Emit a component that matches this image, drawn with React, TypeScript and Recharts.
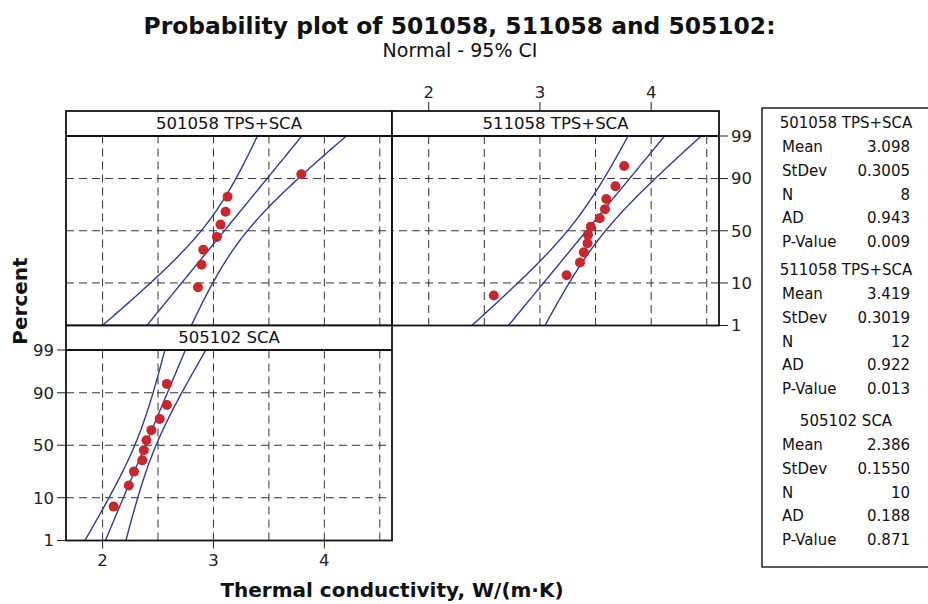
import { ComposedChart, Line, ReferenceLine, Scatter, XAxis, YAxis } from "recharts";

const W = 928;
const H = 604;
const FONT = "'DejaVu Sans', Verdana, sans-serif";
const LINE_BLUE = "#2f3c9a";
const DOT_RED = "#c9272e";
const GRID = "#333";

// axis ticks
const percentTicks = [1, 10, 50, 90, 99];
const percentGrid = [10, 50, 90];
const xTicks = [2, 3, 4];
const xGrid = [2, 2.5, 3, 3.5, 4, 4.5];
const xDomain: [number, number] = [1.67, 4.61];

// thermal conductivity samples (sorted) and their plotted percentiles
const tc501058 = [2.86, 2.893, 2.908, 3.031, 3.064, 3.109, 3.127, 3.792];
const pct501058 = [8.3, 20.2, 32.1, 44.0, 56.0, 67.9, 79.8, 91.7];
const tc511058 = [2.585, 3.24, 3.36, 3.395, 3.428, 3.432, 3.458, 3.537, 3.585, 3.597, 3.679, 3.757];
const pct511058 = [5.6, 13.7, 21.8, 29.8, 37.9, 46.0, 54.0, 62.1, 70.2, 78.2, 86.3, 94.4];
const tc505102 = [2.1, 2.237, 2.283, 2.358, 2.372, 2.395, 2.44, 2.515, 2.58, 2.58];
const pct505102 = [6.7, 16.3, 26.0, 35.6, 45.2, 54.8, 64.4, 74.0, 83.7, 93.3];

// summary statistics shown in the side table
const names = ["501058 TPS+SCA", "511058 TPS+SCA", "505102 SCA"];
const means = [3.098, 3.419, 2.386];
const stdevs = [0.3005, 0.3019, 0.155];
const counts = [8, 12, 10];
const adStats = ["0.943", "0.922", "0.188"];
const pValues = ["0.009", "0.013", "0.871"];
const meanLabels = ["3.098", "3.419", "2.386"];
const stdevLabels = ["0.3005", "0.3019", "0.1550"];

// Acklam's rational approximation of the standard normal quantile
function normInv(p: number): number {
  const a = [-39.69683028665376, 220.9460984245205, -275.9285104469687, 138.357751867269, -30.66479806614716, 2.506628277459239];
  const b = [-54.47609879822406, 161.5858368580409, -155.6989798598866, 66.80131188771972, -13.28068155288572];
  const c = [-0.007784894002430293, -0.3223964580411365, -2.400758277161838, -2.549732539343734, 4.374664141464968, 2.938163982698783];
  const d = [0.007784695709041462, 0.3224671290700398, 2.445134137142996, 3.754408661907416];
  const pl = 0.02425;
  if (p < pl) {
    const q = Math.sqrt(-2 * Math.log(p));
    return (((((c[0] * q + c[1]) * q + c[2]) * q + c[3]) * q + c[4]) * q + c[5]) / ((((d[0] * q + d[1]) * q + d[2]) * q + d[3]) * q + 1);
  }
  if (p > 1 - pl) {
    const q = Math.sqrt(-2 * Math.log(1 - p));
    return -(((((c[0] * q + c[1]) * q + c[2]) * q + c[3]) * q + c[4]) * q + c[5]) / ((((d[0] * q + d[1]) * q + d[2]) * q + d[3]) * q + 1);
  }
  const q = p - 0.5;
  const r = q * q;
  return ((((((a[0] * r + a[1]) * r + a[2]) * r + a[3]) * r + a[4]) * r + a[5]) * q) / (((((b[0] * r + b[1]) * r + b[2]) * r + b[3]) * r + b[4]) * r + 1);
}

const zOf = (pct: number) => normInv(pct / 100);
const Z_LO = zOf(1);
const Z_HI = zOf(99);
const Z975 = 1.959964;

// fitted normal line and 95% CI on percentiles, from mean / stdev / N
function fitCurves(mu: number, sd: number, n: number) {
  const fit: { x: number; z: number }[] = [];
  const lo: { x: number; z: number }[] = [];
  const hi: { x: number; z: number }[] = [];
  const steps = 60;
  for (let k = 0; k <= steps; k++) {
    const z = Z_LO + ((Z_HI - Z_LO) * k) / steps;
    const x = mu + z * sd;
    const half = Z975 * sd * Math.sqrt(1 / n + (z * z) / (2 * n));
    fit.push({ x, z });
    lo.push({ x: x - half, z });
    hi.push({ x: x + half, z });
  }
  return { fit, lo, hi };
}

type Panel = {
  title: string;
  values: number[];
  pcts: number[];
  mean: number;
  sd: number;
  n: number;
  left: number;
  right: number;
  head: number;
  top: number;
  bottom: number;
  xAxis: "top" | "bottom" | null;
  yAxis: "left" | "right" | null;
};

const COL1 = [66, 392];
const COL2 = [392, 719];
const ROW1 = { head: 111, top: 136, bottom: 325.5 };
const ROW2 = { head: 325.5, top: 350, bottom: 540.5 };

const panels: Panel[] = [
  { title: names[0], values: tc501058, pcts: pct501058, mean: means[0], sd: stdevs[0], n: counts[0], left: COL1[0], right: COL1[1], ...ROW1, xAxis: null, yAxis: null },
  { title: names[1], values: tc511058, pcts: pct511058, mean: means[1], sd: stdevs[1], n: counts[1], left: COL2[0], right: COL2[1], ...ROW1, xAxis: "top", yAxis: "right" },
  { title: names[2], values: tc505102, pcts: pct505102, mean: means[2], sd: stdevs[2], n: counts[2], left: COL1[0], right: COL1[1], ...ROW2, xAxis: "bottom", yAxis: "left" },
];

const yTickValues = percentTicks.map(zOf);
const yTickLabel = (v: number) => {
  let best = 0;
  yTickValues.forEach((z, i) => {
    if (Math.abs(z - v) < Math.abs(yTickValues[best] - v)) best = i;
  });
  return String(percentTicks[best]);
};

const tickStyle = { fill: "#222", fontSize: 16.5, fontFamily: FONT };

const Dot = (props: any) => <circle cx={props.cx} cy={props.cy} r={5} fill={DOT_RED} />;

function PanelChart({ p }: { p: Panel }) {
  const { fit, lo, hi } = fitCurves(p.mean, p.sd, p.n);
  const points = p.values.map((x, i) => ({ x, z: zOf(p.pcts[i]) }));
  // the top axis sits above the header strip, so its band spans the header;
  // other axes only need a 1px band (they draw nothing at zero size)
  const xh = p.xAxis === "top" ? p.top - p.head : p.xAxis ? 1 : 0;
  const yw = p.yAxis ? 1 : 0;
  const margin = {
    top: p.top - (p.xAxis === "top" ? xh : 0),
    bottom: H - p.bottom - (p.xAxis === "bottom" ? xh : 0),
    left: p.left - (p.yAxis === "left" ? yw : 0),
    right: W - p.right - (p.yAxis === "right" ? yw : 0),
  };
  return (
    <div style={{ position: "absolute", left: 0, top: 0 }}>
      <ComposedChart width={W} height={H} margin={margin}>
        <XAxis
          dataKey="x"
          type="number"
          domain={xDomain}
          allowDataOverflow
          ticks={xTicks}
          interval={0}
          hide={p.xAxis === null}
          orientation={p.xAxis === "top" ? "top" : "bottom"}
          height={xh}
          axisLine={false}
          tickLine={{ stroke: "#222" }}
          tickSize={p.xAxis === "top" ? xh + 9 : 8}
          tickMargin={p.xAxis === "top" ? 4 : 6}
          tick={tickStyle}
        />
        <YAxis
          dataKey="z"
          type="number"
          domain={[Z_LO, Z_HI]}
          allowDataOverflow
          ticks={yTickValues}
          interval={0}
          tickFormatter={yTickLabel}
          hide={p.yAxis === null}
          orientation={p.yAxis === "right" ? "right" : "left"}
          width={yw}
          axisLine={false}
          tickLine={{ stroke: "#222" }}
          tickSize={9}
          tickMargin={3}
          tick={tickStyle}
        />
        {xGrid.map((v) => (
          <ReferenceLine key={"x" + v} x={v} stroke={GRID} strokeDasharray="8 5" />
        ))}
        {percentGrid.map((v) => (
          <ReferenceLine key={"y" + v} y={zOf(v)} stroke={GRID} strokeDasharray="8 5" />
        ))}
        <Line data={lo} dataKey="z" stroke={LINE_BLUE} strokeWidth={1.4} dot={false} isAnimationActive={false} />
        <Line data={fit} dataKey="z" stroke={LINE_BLUE} strokeWidth={1.4} dot={false} isAnimationActive={false} />
        <Line data={hi} dataKey="z" stroke={LINE_BLUE} strokeWidth={1.4} dot={false} isAnimationActive={false} />
        <Scatter data={points} dataKey="z" shape={Dot} isAnimationActive={false} />
      </ComposedChart>
    </div>
  );
}

function Frames() {
  return (
    <svg width={W} height={H} style={{ position: "absolute", left: 0, top: 0 }} fontFamily={FONT}>
      {panels.map((p) => (
        <g key={p.title}>
          <rect x={p.left} y={p.head} width={p.right - p.left} height={p.top - p.head} fill="#fff" />
          <rect x={p.left} y={p.head} width={p.right - p.left} height={p.bottom - p.head} fill="none" stroke="#111" strokeWidth={1.8} />
          <line x1={p.left} x2={p.right} y1={p.top} y2={p.top} stroke="#111" strokeWidth={1.8} />
          <text x={(p.left + p.right) / 2} y={(p.head + p.top) / 2} textAnchor="middle" dominantBaseline="central" fontSize={16.5} fill="#111">
            {p.title}
          </text>
        </g>
      ))}
    </svg>
  );
}

function Labels() {
  const rowLabels = ["Mean", "StDev", "N", "AD", "P-Value"];
  const groupTops = [123, 270, 421];
  return (
    <svg width={W} height={H} style={{ position: "absolute", left: 0, top: 0 }} fontFamily={FONT} fill="#111">
      <text x={459.5} y={34} textAnchor="middle" fontSize={23.4} fontWeight="bold">
        Probability plot of 501058, 511058 and 505102:
      </text>
      <text x={460} y={57} textAnchor="middle" fontSize={19}>
        Normal - 95% CI
      </text>
      <text x={27} y={301} textAnchor="middle" fontSize={20} fontWeight="bold" transform="rotate(-90 27 301)">
        Percent
      </text>
      <text x={392} y={597} textAnchor="middle" fontSize={20} fontWeight="bold">
        Thermal conductivity, W/(m·K)
      </text>
      <rect x={762} y={108} width={200} height={459} fill="none" stroke="#222" strokeWidth={1.5} />
      {names.map((name, g) => {
        const vals = [meanLabels[g], stdevLabels[g], String(counts[g]), adStats[g], pValues[g]];
        const y0 = groupTops[g];
        return (
          <g key={name} fontSize={15}>
            <text x={846} y={y0} textAnchor="middle" dominantBaseline="central">
              {name}
            </text>
            {rowLabels.map((lab, i) => (
              <g key={lab}>
                <text x={782} y={y0 + 24 + i * 23.8} dominantBaseline="central">
                  {lab}
                </text>
                <text x={910} y={y0 + 24 + i * 23.8} textAnchor="end" dominantBaseline="central">
                  {vals[i]}
                </text>
              </g>
            ))}
          </g>
        );
      })}
    </svg>
  );
}

export default function App() {
  return (
    <div style={{ position: "absolute", left: 0, top: 0, width: W, height: H, background: "#fff", overflow: "hidden" }}>
      {panels.map((p) => (
        <PanelChart key={p.title} p={p} />
      ))}
      <Frames />
      <Labels />
    </div>
  );
}
